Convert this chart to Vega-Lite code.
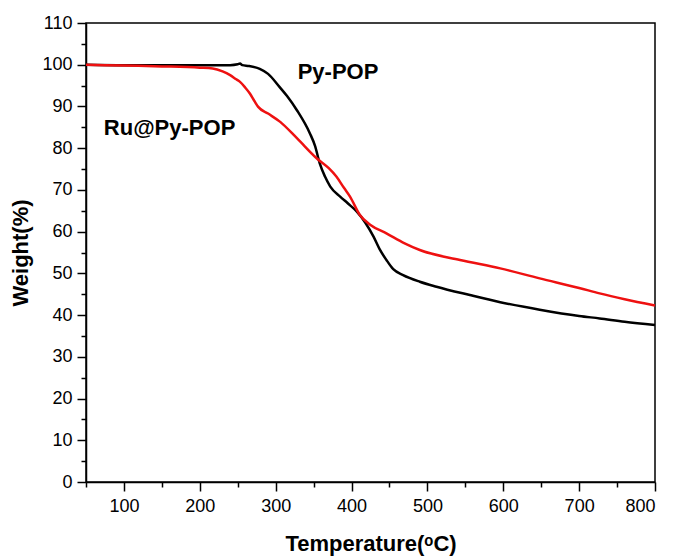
{
  "$schema": "https://vega.github.io/schema/vega-lite/v6.json",
  "width": 569,
  "height": 459,
  "autosize": "none",
  "padding": {"left": 86, "top": 23, "right": 18, "bottom": 74},
  "config": {
    "view": {"stroke": "black", "strokeWidth": 1.5},
    "font": "Liberation Sans",
    "axis": {
      "domainColor": "black", "domainWidth": 1.5, "tickColor": "black", "tickWidth": 1.5,
      "labelFont": "Liberation Sans", "labelFontSize": 18, "labelColor": "black",
      "titleFont": "Liberation Sans", "titleFontSize": 22, "titleFontWeight": "bold", "titleColor": "black",
      "grid": false
    }
  },
  "datasets": {
    "py": [
      {"t": 50, "w": 100}, {"t": 100, "w": 99.9}, {"t": 150, "w": 99.9}, {"t": 200, "w": 99.9},
      {"t": 240, "w": 99.9}, {"t": 250, "w": 100.1}, {"t": 253, "w": 100.3}, {"t": 256, "w": 99.9},
      {"t": 265, "w": 99.7}, {"t": 279, "w": 99.0}, {"t": 290, "w": 97.8}, {"t": 305, "w": 94.7},
      {"t": 315, "w": 92.5}, {"t": 328, "w": 89.1}, {"t": 345, "w": 83.6}, {"t": 352, "w": 80.5},
      {"t": 358, "w": 76.4}, {"t": 365, "w": 73.2}, {"t": 372, "w": 70.8}, {"t": 385, "w": 68.4},
      {"t": 395, "w": 66.8}, {"t": 407, "w": 64.8}, {"t": 418, "w": 62.2}, {"t": 429, "w": 58.8},
      {"t": 437, "w": 55.8}, {"t": 446, "w": 53.2}, {"t": 455, "w": 51.0}, {"t": 468, "w": 49.6},
      {"t": 490, "w": 48.0}, {"t": 512, "w": 46.8}, {"t": 556, "w": 44.8}, {"t": 596, "w": 43.1},
      {"t": 648, "w": 41.3}, {"t": 700, "w": 39.8}, {"t": 727, "w": 39.2}, {"t": 760, "w": 38.4},
      {"t": 800, "w": 37.6}
    ],
    "ru": [
      {"t": 50, "w": 100}, {"t": 100, "w": 99.8}, {"t": 150, "w": 99.6}, {"t": 200, "w": 99.3},
      {"t": 217, "w": 99.1}, {"t": 230, "w": 98.4}, {"t": 240, "w": 97.5}, {"t": 248, "w": 96.5},
      {"t": 253, "w": 95.9}, {"t": 260, "w": 94.5}, {"t": 266, "w": 93.1}, {"t": 272, "w": 91.3},
      {"t": 277, "w": 89.9}, {"t": 290, "w": 88.3}, {"t": 306, "w": 86.3}, {"t": 328, "w": 82.4},
      {"t": 354, "w": 77.6}, {"t": 370, "w": 75.2}, {"t": 380, "w": 73.2}, {"t": 390, "w": 70.5},
      {"t": 398, "w": 68.4}, {"t": 411, "w": 64.0}, {"t": 425, "w": 61.6}, {"t": 446, "w": 59.6},
      {"t": 470, "w": 57.2}, {"t": 490, "w": 55.6}, {"t": 543, "w": 53.2}, {"t": 596, "w": 51.2},
      {"t": 648, "w": 48.8}, {"t": 700, "w": 46.5}, {"t": 727, "w": 45.2}, {"t": 760, "w": 43.8},
      {"t": 800, "w": 42.3}
    ],
    "labels": [
      {"t": 329, "w": 98.3, "text": "Py-POP"},
      {"t": 73.5, "w": 84.8, "text": "Ru@Py-POP"}
    ]
  },
  "encoding": {
    "x": {
      "field": "t", "type": "quantitative",
      "scale": {"domain": [50, 800], "nice": false, "zero": false},
      "axis": {
        "title": "Temperature(ᵒC)",
        "values": [50,100,150,200,250,300,350,400,450,500,550,600,650,700,750,800],
        "labelExpr": "datum.value % 100 === 0 ? datum.label : ''",
        "tickSize": {"condition": {"test": "datum.value % 100 === 0", "value": 9}, "value": 5},
        "labelPadding": 6,
        "titlePadding": 18
      }
    },
    "y": {
      "field": "w", "type": "quantitative",
      "scale": {"domain": [0, 110], "nice": false},
      "axis": {
        "title": "Weight(%)",
        "values": [0,5,10,15,20,25,30,35,40,45,50,55,60,65,70,75,80,85,90,95,100,105,110],
        "labelExpr": "datum.value % 10 === 0 ? datum.label : ''",
        "tickSize": {"condition": {"test": "datum.value % 10 === 0", "value": 9}, "value": 5},
        "labelPadding": 5,
        "titlePadding": 9
      }
    }
  },
  "layer": [
    {
      "data": {"name": "py"},
      "mark": {"type": "line", "color": "black", "strokeWidth": 2.5, "interpolate": "monotone"}
    },
    {
      "data": {"name": "ru"},
      "mark": {"type": "line", "color": "#ee1111", "strokeWidth": 2.5, "interpolate": "monotone"}
    },
    {
      "data": {"name": "labels"},
      "mark": {"type": "text", "align": "left", "baseline": "middle", "font": "Liberation Sans", "fontSize": 22, "fontWeight": "bold", "color": "black"},
      "encoding": {"text": {"field": "text", "type": "nominal"}}
    }
  ]
}
